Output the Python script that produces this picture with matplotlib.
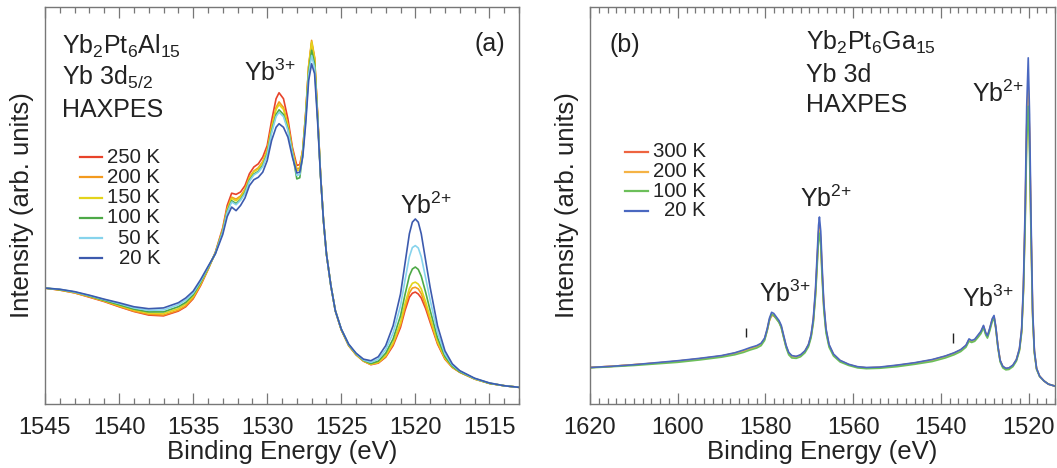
import matplotlib
matplotlib.use("Agg")
import matplotlib.pyplot as plt
from matplotlib.ticker import MultipleLocator

plt.rcParams['font.family'] = ['Liberation Sans', 'DejaVu Sans']
plt.rcParams['mathtext.fontset'] = 'custom'
plt.rcParams['mathtext.rm'] = 'Liberation Sans'
plt.rcParams['mathtext.it'] = 'Liberation Sans:italic'
plt.rcParams['mathtext.bf'] = 'Liberation Sans:bold'

# ---------------- (a) Yb2Pt6Al15, Yb 3d5/2 ----------------
energy_al = [1545, 1544, 1543, 1542, 1541, 1540, 1539, 1538, 1537, 1536,
             1535.5, 1535, 1534.5, 1534, 1533.5, 1533,
             1532.7, 1532.4, 1532.1, 1531.8, 1531.5, 1531.2, 1530.9, 1530.6, 1530.3, 1530,
             1529.7, 1529.4, 1529.2, 1528.9, 1528.6, 1528.3, 1528.0, 1527.8,
             1527.6, 1527.4, 1527.2, 1527.0, 1526.8, 1526.6, 1526.4, 1526.2, 1526.0,
             1525.7, 1525.4, 1525.0, 1524.5, 1524.0, 1523.5, 1523.0, 1522.5, 1522.0, 1521.5, 1521.0,
             1520.7, 1520.4, 1520.2, 1520.0, 1519.8, 1519.6, 1519.3, 1519.0,
             1518.5, 1518.0, 1517.5, 1517, 1516, 1515, 1514, 1513]

al_250K = [29.2, 28.7, 28.0, 26.9, 25.8, 24.5, 23.3, 22.4, 22.2, 23.4,
           24.5, 26.5, 29.8, 33.8, 38.2, 44.4,
           50.0, 53.1, 52.8, 53.4, 55.0, 58.0, 59.7, 60.5, 62.2, 65.1,
           71.4, 76.9, 78.4, 76.9, 71.8, 64.7, 60.1, 60.3,
           63.9, 73.1, 84.9, 90.9, 87.0, 73.1, 58.0, 46.2, 37.8,
           29.8, 23.5, 18.7, 14.7, 12.4, 10.8, 9.9, 10.3, 11.8, 14.7, 19.3,
           23.5, 26.9, 27.9, 28.2, 27.7, 26.7, 24.0, 20.6,
           15.1, 11.3, 9.2, 8.0, 6.3, 5.2, 4.6, 4.2]
al_200K = [29.2, 28.7, 28.0, 27.0, 25.9, 24.6, 23.4, 22.6, 22.4, 23.6,
           24.7, 26.7, 30.0, 33.9, 38.1, 43.9,
           49.2, 52.1, 51.6, 52.4, 54.1, 57.1, 58.7, 59.5, 61.1, 64.0,
           69.9, 74.7, 76.1, 74.7, 70.4, 64.0, 59.2, 59.5,
           64.0, 73.4, 85.2, 91.6, 87.4, 73.3, 58.0, 46.2, 37.8,
           29.8, 23.5, 18.7, 14.8, 12.4, 10.8, 10.0, 10.4, 12.0, 15.1, 19.9,
           24.3, 28.0, 29.2, 29.4, 29.0, 27.8, 24.8, 21.2,
           15.4, 11.4, 9.3, 8.0, 6.3, 5.2, 4.6, 4.2]
al_150K = [29.2, 28.8, 28.1, 27.1, 26.0, 24.8, 23.7, 22.9, 22.8, 24.0,
           25.2, 27.1, 30.3, 34.0, 38.0, 43.8,
           48.9, 51.8, 51.2, 52.1, 53.8, 56.9, 58.5, 59.2, 60.8, 63.7,
           69.5, 74.2, 75.4, 74.2, 70.1, 63.8, 58.8, 59.0,
           63.9, 73.1, 84.9, 91.2, 87.0, 73.1, 57.9, 46.2, 37.8,
           29.8, 23.5, 18.8, 14.8, 12.5, 10.9, 10.0, 10.5, 12.2, 15.4, 20.5,
           25.2, 29.1, 30.4, 30.7, 30.2, 29.0, 25.7, 21.8,
           15.7, 11.6, 9.3, 8.1, 6.3, 5.2, 4.6, 4.2]
al_100K = [29.2, 28.8, 28.2, 27.2, 26.1, 25.0, 23.9, 23.2, 23.2, 24.5,
           25.6, 27.5, 30.6, 34.2, 38.0, 43.5,
           48.5, 51.2, 50.5, 51.5, 53.3, 56.4, 57.9, 58.6, 60.1, 63.0,
           68.7, 72.9, 74.1, 72.9, 69.3, 63.3, 56.7, 57.0,
           63.0, 72.2, 83.7, 89.1, 85.7, 72.5, 57.8, 46.2, 37.8,
           29.8, 23.5, 18.8, 14.9, 12.6, 11.0, 10.2, 10.8, 12.8, 16.4, 22.2,
           27.5, 32.3, 34.0, 34.5, 33.9, 32.2, 28.1, 23.6,
           16.7, 12.0, 9.5, 8.1, 6.4, 5.2, 4.6, 4.2]
al_50K = [29.2, 28.9, 28.2, 27.3, 26.3, 25.3, 24.2, 23.6, 23.7, 25.0,
          26.2, 27.9, 30.9, 34.4, 37.9, 43.3,
          48.2, 50.9, 50.2, 51.3, 53.0, 56.1, 57.7, 58.4, 59.8, 62.7,
          68.3, 72.4, 73.5, 72.4, 68.9, 63.1, 57.6, 57.8,
          62.8, 71.6, 82.9, 87.8, 84.7, 72.1, 57.7, 46.2, 37.8,
          29.8, 23.5, 18.9, 15.0, 12.7, 11.1, 10.5, 11.3, 13.7, 17.9, 24.7,
          31.1, 37.1, 39.4, 39.9, 39.3, 37.1, 31.7, 26.2,
          18.0, 12.6, 9.8, 8.3, 6.4, 5.3, 4.6, 4.2]
al_20K = [29.2, 28.9, 28.3, 27.4, 26.4, 25.5, 24.5, 24.0, 24.2, 25.5,
          26.7, 28.4, 31.3, 34.6, 37.8, 42.7,
          47.2, 49.6, 48.7, 50.0, 51.9, 55.0, 56.5, 57.1, 58.4, 61.3,
          66.4, 69.7, 70.6, 69.7, 67.2, 62.2, 58.2, 58.4,
          62.2, 70.6, 81.5, 85.7, 83.2, 71.4, 57.6, 46.2, 37.8,
          29.8, 23.5, 18.9, 15.1, 12.8, 11.3, 10.9, 11.9, 14.7, 19.7, 27.7,
          35.3, 42.9, 45.8, 46.6, 45.8, 42.9, 36.1, 29.4,
          19.7, 13.4, 10.1, 8.4, 6.5, 5.3, 4.6, 4.2]

al_labels = ["250 K", "200 K", "150 K", "100 K", "50 K", "20 K"]
al_colors = ["#E8432A", "#F39A1E", "#E3D31B", "#4DA947", "#86D3EC", "#3C5AAE"]

# ---------------- (b) Yb2Pt6Ga15, Yb 3d ----------------
energy_ga = [1620, 1615, 1610, 1605, 1600, 1595, 1590, 1587, 1585, 1583.5,
             1582, 1581, 1580.2, 1579.6, 1579.1, 1578.6, 1578.1, 1577.5, 1576.9, 1576.4,
             1575.9, 1575.3, 1574.7, 1574.0, 1573.0, 1572.0, 1571.0, 1570.2, 1569.6, 1569.1,
             1568.6, 1568.2, 1567.9, 1567.7, 1567.4, 1567.1, 1566.7, 1566.2, 1565.5, 1564.5,
             1563, 1561, 1559, 1557, 1554, 1550, 1546, 1542, 1539, 1537,
             1535.5, 1534.3, 1533.6, 1533.0, 1532.3, 1531.6, 1530.9, 1530.3, 1529.8, 1529.4,
             1528.9, 1528.3, 1527.9, 1527.5, 1527.0, 1526.5, 1525.9, 1525.2, 1524.5, 1523.6,
             1522.8, 1522.1, 1521.6, 1521.2, 1520.8, 1520.45, 1520.1, 1519.8, 1519.45, 1519.1,
             1518.7, 1518.2, 1517.5, 1516.5, 1515.5, 1514]

ga_300K = [9.2, 9.5, 9.9, 10.3, 10.8, 11.4, 12.1, 12.8, 13.4, 14.0,
           14.5, 15.1, 16.3, 18.6, 21.0, 22.3, 22.2, 21.5, 20.6, 19.4,
           17.1, 14.5, 12.8, 12.0, 11.9, 12.3, 13.3, 14.9, 17.2, 21.0,
           28.0, 36.5, 43.3, 44.8, 41.5, 33.5, 24.8, 18.6, 14.8, 12.5,
           10.9, 9.9, 9.3, 9.1, 9.2, 9.7, 10.3, 11.1, 12.0, 12.8,
           13.6, 14.7, 16.2, 15.8, 16.1, 17.1, 18.1, 19.6, 17.8, 17.0,
           18.8, 21.3, 22.0, 19.3, 14.4, 10.9, 9.4, 8.9, 9.0, 9.7,
           11.1, 13.8, 18.6, 29.0, 47.5, 70.0, 80.0, 68.0, 43.5, 23.0,
           13.2, 8.9, 7.0, 5.8, 5.0, 4.5]
ga_200K = [9.2, 9.5, 9.9, 10.3, 10.8, 11.4, 12.1, 12.8, 13.4, 14.0,
           14.5, 15.1, 16.4, 18.8, 21.3, 22.6, 22.4, 21.6, 20.7, 19.5,
           17.2, 14.6, 12.8, 12.0, 11.9, 12.3, 13.3, 14.8, 17.1, 20.8,
           27.6, 36.0, 42.6, 44.0, 40.8, 33.0, 24.5, 18.5, 14.7, 12.4,
           10.9, 9.9, 9.3, 9.1, 9.2, 9.7, 10.3, 11.1, 12.0, 12.8,
           13.6, 14.6, 16.1, 15.8, 16.1, 17.0, 18.0, 19.5, 17.8, 17.0,
           18.7, 21.2, 22.0, 19.3, 14.4, 10.9, 9.4, 8.9, 9.0, 9.7,
           11.1, 13.7, 18.4, 28.5, 47.0, 69.0, 79.0, 67.0, 43.0, 22.8,
           13.1, 8.9, 7.0, 5.8, 5.0, 4.5]
ga_100K = [9.1, 9.4, 9.7, 10.1, 10.5, 11.1, 11.8, 12.4, 13.0, 13.6,
           14.1, 14.7, 16.0, 18.5, 21.1, 22.6, 22.3, 21.4, 20.5, 19.2,
           16.9, 14.2, 12.4, 11.6, 11.5, 11.9, 12.9, 14.4, 16.7, 20.3,
           27.0, 35.0, 41.7, 43.0, 39.8, 32.0, 23.7, 17.9, 14.3, 12.1,
           10.6, 9.7, 9.1, 8.9, 9.0, 9.4, 10.0, 10.7, 11.6, 12.4,
           13.2, 14.3, 15.8, 15.5, 15.8, 16.7, 17.7, 19.2, 17.4, 16.6,
           18.3, 20.8, 21.6, 18.9, 14.0, 10.6, 9.1, 8.6, 8.7, 9.4,
           10.8, 13.4, 18.0, 28.0, 45.0, 66.0, 75.0, 63.0, 41.0, 22.0,
           12.8, 8.7, 6.9, 5.8, 5.0, 4.5]
ga_20K = [9.2, 9.5, 9.9, 10.4, 10.9, 11.5, 12.2, 12.9, 13.6, 14.2,
          14.7, 15.3, 16.6, 19.0, 21.6, 23.1, 22.8, 21.9, 21.0, 19.8,
          17.5, 14.8, 13.0, 12.2, 12.0, 12.4, 13.4, 15.0, 17.5, 21.5,
          29.0, 38.0, 45.0, 47.1, 43.5, 35.0, 25.5, 19.0, 15.0, 12.6,
          11.0, 10.0, 9.4, 9.2, 9.3, 9.8, 10.4, 11.2, 12.1, 12.9,
          13.7, 14.8, 16.4, 16.0, 16.3, 17.3, 18.3, 19.8, 18.0, 17.2,
          19.0, 21.5, 22.3, 19.5, 14.5, 11.0, 9.5, 9.0, 9.1, 9.8,
          11.2, 14.0, 19.0, 30.0, 50.0, 75.0, 87.2, 73.0, 46.0, 24.0,
          13.5, 9.0, 7.0, 5.8, 5.0, 4.5]

ga_labels = ["300 K", "200 K", "100 K", "20 K"]
ga_colors = ["#EE6440", "#F5B345", "#6CBF5A", "#4A68C0"]

# small vertical marks above the spectra (energy, lower end, upper end)
mark_energy = [1584.35, 1537.25]
mark_low = [17.0, 15.4]
mark_high = [19.1, 17.9]

TEXT = "#222222"
SPINE = "#777777"
FS_TICK = 17
FS_LABEL = 18.5
FS_NOTE = 18
FS_LEG = 14.7

fig = plt.figure(figsize=(10.57, 4.68), dpi=100)
ax_a = fig.add_axes([45 / 1057, 64 / 468, 474 / 1057, 397 / 468])
ax_b = fig.add_axes([590 / 1057, 64 / 468, 465 / 1057, 397 / 468])


def style_axis(ax, major, minor, xlim):
    ax.set_xlim(*xlim)
    ax.set_ylim(0, 100)
    ax.xaxis.set_major_locator(MultipleLocator(major))
    ax.xaxis.set_minor_locator(MultipleLocator(minor))
    ax.tick_params(axis="x", which="both", direction="in", top=True, bottom=True,
                   colors=SPINE, labelcolor=TEXT, labelsize=FS_TICK, width=0.9, pad=9)
    ax.tick_params(axis="x", which="major", length=8)
    ax.tick_params(axis="x", which="minor", length=4.5)
    ax.set_yticks([])
    for s in ax.spines.values():
        s.set_color(SPINE)
        s.set_linewidth(1.0)
    ax.set_xlabel("Binding Energy (eV)", fontsize=FS_LABEL, color=TEXT, labelpad=1)
    ax.set_ylabel("Intensity (arb. units)", fontsize=FS_LABEL, color=TEXT, labelpad=8)


def draw_legend(ax, labels, colors, y0, dy, x_line, x_text):
    for i, (lab, col) in enumerate(zip(labels, colors)):
        y = y0 - i * dy
        ax.plot(x_line, [y, y], color=col, lw=1.6, transform=ax.transAxes, clip_on=False)
        ax.text(x_text, y, lab, transform=ax.transAxes, ha="right", va="center",
                fontsize=FS_LEG, color=TEXT)


def note(ax, x, y, s, **kw):
    ax.text(x, y, s, transform=ax.transAxes, fontsize=FS_NOTE, color=TEXT,
            va="baseline", **kw)


YB3 = "Yb$^{3{+}}$"
YB2 = "Yb$^{2{+}}$"

# panel (a)
for series, col in zip([al_250K, al_200K, al_150K, al_100K, al_50K, al_20K], al_colors):
    ax_a.plot(energy_al, series, color=col, lw=1.2)
style_axis(ax_a, 5, 1, (1545, 1513))
draw_legend(ax_a, al_labels, al_colors, 0.622, 0.051, [0.074, 0.120], 0.243)
note(ax_a, 0.036, 0.882, "Yb$_2$Pt$_6$Al$_{15}$")
note(ax_a, 0.036, 0.804, "Yb 3d$_{5/2}$")
note(ax_a, 0.036, 0.723, "HAXPES")
note(ax_a, 0.970, 0.889, "(a)", ha="right")
note(ax_a, 0.42, 0.814, YB3)
note(ax_a, 0.749, 0.479, YB2)

# panel (b)
for series, col in zip([ga_300K, ga_200K, ga_100K, ga_20K], ga_colors):
    ax_b.plot(energy_ga, series, color=col, lw=1.2)
ax_b.vlines(mark_energy, mark_low, mark_high, color=TEXT, lw=1.0)
style_axis(ax_b, 20, 2, (1620, 1514))
draw_legend(ax_b, ga_labels, ga_colors, 0.635, 0.0496, [0.075, 0.124], 0.249)
note(ax_b, 0.043, 0.887, "(b)")
note(ax_b, 0.465, 0.892, "Yb$_2$Pt$_6$Ga$_{15}$")
note(ax_b, 0.465, 0.811, "Yb 3d")
note(ax_b, 0.465, 0.736, "HAXPES")
note(ax_b, 0.822, 0.761, YB2)
note(ax_b, 0.452, 0.496, YB2)
note(ax_b, 0.363, 0.257, YB3)
note(ax_b, 0.80, 0.244, YB3)

fig.savefig("out.png", dpi=100)
